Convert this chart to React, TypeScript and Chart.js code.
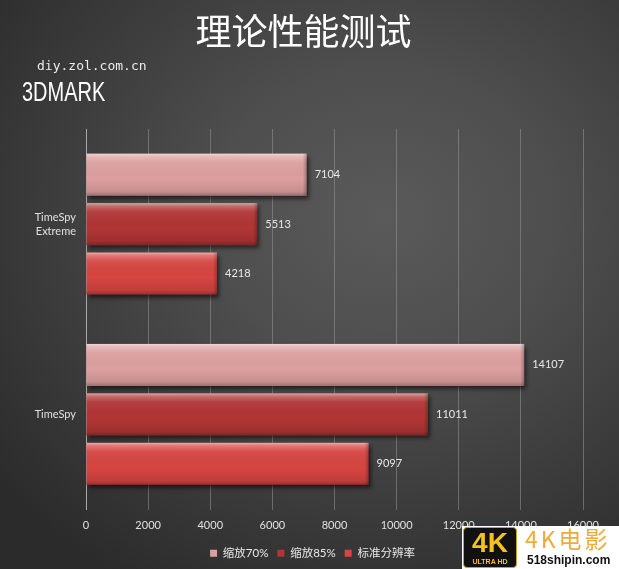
import React, { useEffect, useRef } from 'react';
import { Chart, registerables } from 'chart.js';

Chart.register(...registerables);

const categories: (string | string[])[] = [['TimeSpy', 'Extreme'], 'TimeSpy'];
const seriesNames = ['缩放70%', '缩放85%', '标准分辨率'];
const scale70 = [7104, 14107];
const scale85 = [5513, 11011];
const nativeRes = [4218, 9097];
const seriesColors = ['#dd9f9f', '#b13535', '#d64541'];
const xMin = 0;
const xMax = 16000;
const xStep = 2000;

const barStyle = {
  id: 'barStyle',
  afterLayout(chart: any) {
    const lg = chart.legend;
    if (lg) {
      lg.left += 21;
      lg.right += 21;
    }
  },
  beforeDatasetsDraw(chart: any) {
    const ctx = chart.ctx;
    ctx.save();
    ctx.shadowColor = 'rgba(0,0,0,0.55)';
    ctx.shadowBlur = 4;
    ctx.shadowOffsetX = 2;
    ctx.shadowOffsetY = 3;
  },
  afterDatasetsDraw(chart: any) {
    const ctx = chart.ctx;
    ctx.restore();
    chart.data.datasets.forEach((ds: any, di: number) => {
      const meta = chart.getDatasetMeta(di);
      meta.data.forEach((el: any, i: number) => {
        const { x, y, base, height } = el.getProps(['x', 'y', 'base', 'height'], true);
        const top = y - height / 2;
        const w = x - base;
        const g = ctx.createLinearGradient(0, top, 0, top + height);
        g.addColorStop(0, 'rgba(255,255,255,0.55)');
        g.addColorStop(0.07, 'rgba(255,255,255,0.28)');
        g.addColorStop(0.2, 'rgba(255,255,255,0.06)');
        g.addColorStop(0.6, 'rgba(0,0,0,0)');
        g.addColorStop(0.9, 'rgba(0,0,0,0.1)');
        g.addColorStop(1, 'rgba(0,0,0,0.3)');
        ctx.fillStyle = g;
        ctx.fillRect(base, top, w, height);
        const bw = 4;
        const g2 = ctx.createLinearGradient(x - bw, 0, x, 0);
        g2.addColorStop(0, 'rgba(0,0,0,0)');
        g2.addColorStop(1, 'rgba(0,0,0,0.25)');
        ctx.fillStyle = g2;
        ctx.fillRect(x - bw, top, bw, height);
        ctx.fillStyle = '#e8e8e8';
        ctx.font = '11px Lato, "Noto Sans", sans-serif';
        ctx.textBaseline = 'middle';
        ctx.textAlign = 'left';
        ctx.fillText(String(ds.data[i]), x + 8, y);
      });
    });
  },
};

export default function App() {
  const ref = useRef<HTMLCanvasElement | null>(null);
  useEffect(() => {
    if (!ref.current) return;
    const chart = new Chart(ref.current, {
      type: 'bar',
      data: {
        labels: categories,
        datasets: [
          { label: seriesNames[0], data: scale70, backgroundColor: seriesColors[0] },
          { label: seriesNames[1], data: scale85, backgroundColor: seriesColors[1] },
          { label: seriesNames[2], data: nativeRes, backgroundColor: seriesColors[2] },
        ],
      },
      options: {
        indexAxis: 'y',
        animation: false,
        responsive: false,
        maintainAspectRatio: false,
        datasets: { bar: { categoryPercentage: 0.78, barPercentage: 0.85 } },
        layout: { padding: { left: 0, right: 36, top: 129, bottom: 0 } },
        scales: {
          x: {
            min: xMin,
            max: xMax,
            ticks: {
              stepSize: xStep,
              color: '#e0e0e0',
              font: { family: 'Lato, "Noto Sans", sans-serif', size: 11 },
              padding: 9,
              callback: (v: any) => String(v),
            },
            grid: { color: 'rgba(150,150,150,0.55)', drawTicks: false },
            border: { display: false },
            afterFit: (s: any) => { s.height = 29; },
          },
          y: {
            ticks: {
              color: '#e0e0e0',
              font: { family: 'Lato, "Noto Sans", sans-serif', size: 11, lineHeight: 1.25 },
              padding: 10,
            },
            grid: { display: false, drawTicks: false },
            border: { display: true, color: '#a8a8a8' },
            afterFit: (s: any) => { s.width = 86; },
          },
        },
        plugins: {
          legend: {
            position: 'bottom',
            labels: {
              color: '#e8e8e8',
              boxWidth: 7,
              boxHeight: 7,
              padding: 9,
              font: { family: 'Lato, "Noto Sans CJK SC", sans-serif', size: 11.5 },
            },
          },
          tooltip: { enabled: false },
        },
      },
      plugins: [barStyle],
    });
    return () => chart.destroy();
  }, []);

  return (
    <div
      style={{
        position: 'absolute',
        left: 0,
        top: 0,
        width: 619,
        height: 569,
        overflow: 'hidden',
        background:
          'radial-gradient(ellipse 80% 75% at 62% 38%, #5a5a5a 0%, #4e4e4e 35%, #3c3c3c 68%, #2b2b2b 100%)',
      }}
    >
      <canvas ref={ref} width={619} height={569} style={{ position: 'absolute', left: 0, top: 0, width: 619, height: 569 }} />
      <div
        style={{
          position: 'absolute',
          left: 0,
          top: 11,
          width: 607,
          textAlign: 'center',
          color: '#ffffff',
          fontFamily: '"Noto Sans CJK SC", sans-serif',
          fontSize: 36,
          lineHeight: '36px',
          whiteSpace: 'nowrap',
        }}
      >
        理论性能测试
      </div>
      <div
        style={{
          position: 'absolute',
          left: 37,
          top: 58,
          color: '#ececec',
          fontFamily: '"DejaVu Sans Mono", monospace',
          fontSize: 13,
          lineHeight: '16px',
          whiteSpace: 'nowrap',
        }}
      >
        diy.zol.com.cn
      </div>
      <div
        style={{
          position: 'absolute',
          left: 22,
          top: 77,
          color: '#ffffff',
          fontFamily: '"Liberation Sans Narrow", "Liberation Sans", sans-serif',
          fontSize: 27,
          lineHeight: '30px',
          transform: 'scaleX(0.74)',
          transformOrigin: 'left center',
          whiteSpace: 'nowrap',
        }}
      >
        3DMARK
      </div>
      <div style={{ position: 'absolute', left: 462, top: 526, width: 157, height: 43, background: '#ffffff' }}>
        <div
          style={{
            position: 'absolute',
            left: 1,
            top: 1,
            width: 52,
            height: 39,
            background: '#111',
            border: '1px solid #c9a227',
            borderRadius: 4,
            textAlign: 'center',
            fontFamily: '"Liberation Sans", sans-serif',
            fontWeight: 'bold',
          }}
        >
          <div style={{ color: '#f4c21c', fontSize: 28, lineHeight: '28px', marginTop: 1 }}>4K</div>
          <div style={{ color: '#f4c21c', fontSize: 7, lineHeight: '9px', whiteSpace: 'nowrap' }}>ULTRA HD</div>
        </div>
        <div
          style={{
            position: 'absolute',
            left: 63,
            top: 0,
            color: '#f2a93b',
            fontFamily: '"Noto Sans CJK SC", sans-serif',
            fontSize: 23,
            lineHeight: '25px',
            letterSpacing: 3,
            whiteSpace: 'nowrap',
          }}
        >
          4K电影
        </div>
        <div
          style={{
            position: 'absolute',
            left: 65,
            top: 27,
            color: '#111',
            fontFamily: '"Liberation Sans", sans-serif',
            fontWeight: 'bold',
            fontSize: 12,
            lineHeight: '14px',
            whiteSpace: 'nowrap',
          }}
        >
          518shipin.com
        </div>
      </div>
    </div>
  );
}
